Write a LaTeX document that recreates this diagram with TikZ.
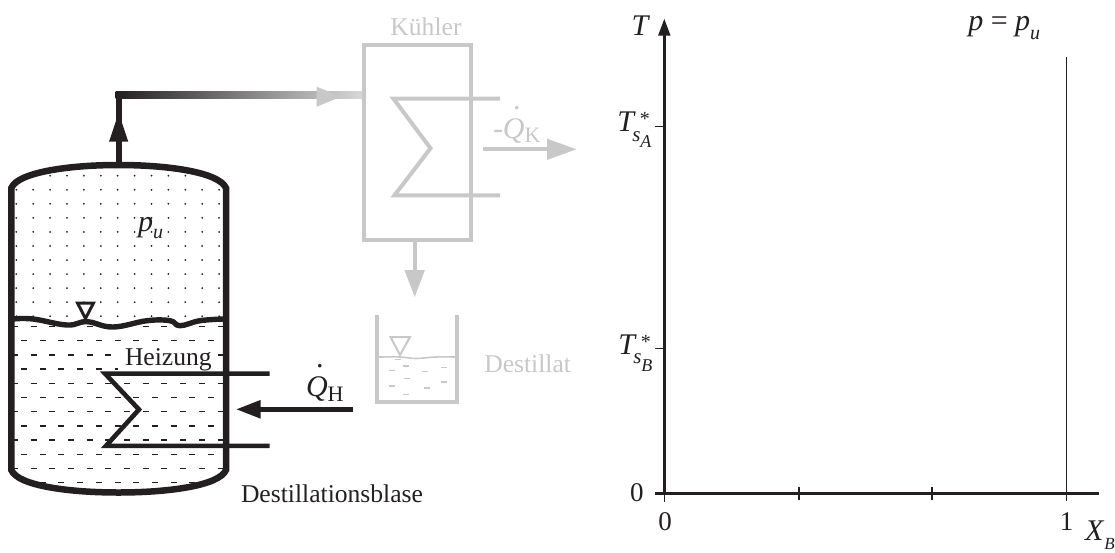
\documentclass[tikz,border=0pt]{standalone}
\usepackage{fontspec}
\setmainfont{Liberation Serif}
\usetikzlibrary{arrows.meta}
\definecolor{ink}{HTML}{231F20}
\definecolor{pale}{HTML}{C8C8C8}
\newcommand{\sz}[1]{\fontsize{#1}{#1}\selectfont}
\newcommand{\rsz}[3]{\raisebox{#1}{\sz{#2}#3}}
\newcommand{\qdot}{\textit{Q}\llap{\raisebox{29pt}{.}\hspace{4pt}}}
\tikzset{
  lbl/.style={anchor=base west,inner sep=0pt,outer sep=0pt,text=ink,font=\sz{25.6}},
  palelbl/.style={lbl,text=pale},
  wall/.style={draw=ink,line width=6.5pt,line join=miter},
  coil/.style={draw=ink,line width=4.6pt,line join=miter},
  palewall/.style={draw=pale,line width=4pt,line join=miter},
  axis/.style={draw=ink,line width=3.6pt},
  tick/.style={draw=ink,line width=1.2pt},
}
\begin{document}
\begin{tikzpicture}[x=1pt,y=-1pt]
\useasboundingbox (0,0) rectangle (1115,552);
% --- tank contents
\begin{scope}
\clip (11.3,188) .. controls (18,172) and (70,165) .. (118.5,165)
      .. controls (167,165) and (219,172) .. (226,188) -- (226,322) -- (11.3,322) -- cycle;
\foreach \r in {0,...,10}
  \foreach \c in {0,...,12}
    \fill[ink] ({16.3+16.9*\c},{175.7+14.05*\r}) circle (1pt);
\end{scope}
\begin{scope}
\clip (11.3,322) -- (226,322) -- (226,470) .. controls (219,486) and (167,492.5) .. (118.5,492.5)
      .. controls (70,492.5) and (18,486) .. (11.3,470) -- cycle;
\foreach \r in {0,2,...,10}
  \foreach \c in {0,...,10}
    \draw[ink,line width=1.3pt] ({21+18.7*\c},{340.7+14.2*\r}) -- ++(6,0);
\foreach \r in {1,3,...,9}
  \foreach \c in {-1,...,10}
    \draw[ink,line width=1.3pt] ({30.5+18.7*\c},{340.7+14.2*\r}) -- ++(6,0);
\foreach \c in {-1,...,11}
    \draw[ink,line width=1.3pt] ({30.5+18.7*\c},326.5) -- ++(6,0);
\end{scope}
\fill[white] (118,344.5) rectangle (218,372);
\node[lbl] (heizung) at (125,365) {Heizung};
% --- tank outline
\draw[wall] (11.3,470) -- (11.3,188) .. controls (18,172) and (70,165) .. (118.5,165)
   .. controls (167,165) and (219,172) .. (226,188) -- (226,470)
   .. controls (219,486) and (167,492.5) .. (118.5,492.5)
   .. controls (70,492.5) and (18,486) .. (11.3,470) -- cycle;
% liquid surface
\draw[ink,line width=5.4pt,line cap=round,line join=round] plot[smooth,tension=0.7] coordinates
  {(13,319) (33,319) (67,325) (87,321.7) (113,327) (147,320.7) (170,320.7) (180,325.7) (200,320.7) (224,319)};
\draw[ink,line width=3pt,line join=miter] (77.5,303) -- (93.5,303) -- (85.5,318.5) -- cycle;
% heating coil
\draw[coil] (269.5,373.6) -- (105,373.6) -- (139,409.5) -- (106,445.8) -- (269.5,445.8);
% vapour pipe
\coordinate (pipebase) at (118.7,165);
\coordinate (pipecorner) at (118.7,95);
\draw[ink,line width=6pt] (pipebase) -- (pipecorner);
\shade[left color=ink,right color=pale!70] (115.7,91) rectangle (362.7,98.7);
\fill[ink] (118.7,113) -- (128.3,141.7) -- (109,141.7) -- cycle;
\fill[pale] (341,96.7) -- (316.7,106.7) -- (316.7,86.7) -- cycle;
% --- cooler
\draw[palewall] (364,45.3) rectangle (471,240.3);
\draw[palewall] (500,98.7) -- (393.5,98.7) -- (430.5,148.3) -- (394.5,195.3) -- (500,195.3);
\node[palelbl,anchor=base] (kuehler) at (426,35) {Kühler};
\coordinate (qks) at (483.3,149.3);
\coordinate (qke) at (576.7,149.3);
\draw[pale,line width=4pt,-{Triangle[length=29.5pt,width=20pt]}] (qks) -- (qke);
\node[palelbl,font=\sz{30}] (qk) at (493,138) {-\qdot\rsz{-4.5pt}{22}{K}};
\coordinate (ds) at (414.7,242);
\coordinate (de) at (414.7,297.3);
\draw[pale,line width=4pt,-{Triangle[length=27.3pt,width=19.4pt]}] (ds) -- (de);
% --- distillate
\draw[palewall] (377.3,315) -- (377.3,401.5) -- (457,401.5) -- (457,315);
\draw[pale,line width=1.6pt] plot[smooth,tension=0.6] coordinates
  {(379,357) (400,357) (416,358.5) (435,357) (455,357)};
\draw[pale,line width=2pt,line join=miter] (390.5,337) -- (410,337) -- (400,355) -- cycle;
\foreach \x/\y in {145/328,125/362,168/348,226/365,281/352,170/385,281/396,125/408,230/414,168/433}
  \draw[pale,line width=1.5pt] ({350+\x/3-3},{250+\y/3}) -- ++(6,0);
\node[palelbl] (destillat) at (484.3,372) {Destillat};
% --- heat input
\coordinate (qhs) at (352.7,409.3);
\coordinate (qhe) at (236,409.3);
\draw[ink,line width=4.6pt,-{Triangle[length=24.7pt,width=17.4pt]}] (qhs) -- (qhe);
\node[lbl,font=\sz{30}] (qh) at (306,396) {\qdot\rsz{-5pt}{22}{H}};
\node[lbl] (blase) at (241,502) {Destillationsblase};
\node[lbl,font=\sz{30}] (pu) at (138,231.7) {\textit{p}\rsz{-6.5pt}{20}{\textit{u}}};
% --- diagram
\coordinate (origin) at (664.3,493.3);
\coordinate (ytop) at (664.3,18.3);
\coordinate (xend) at (1099,493.3);
\coordinate (xstart) at (655,493.3);
\draw[axis,-{Triangle[length=17.4pt,width=11.4pt]}] (origin) -- (ytop);
\draw[axis] (xstart) -- (xend);
\draw[tick] (655,126.7) -- (664.3,126.7);
\draw[tick] (655,348.3) -- (664.3,348.3);
\draw[tick] (664.3,493.3) -- (664.3,501.7);
\draw[tick] (799,486.5) -- (799,499.5);
\draw[tick] (932,486.5) -- (932,499.5);
\draw[ink,line width=1.4pt] (1066.7,57.3) -- (1066.7,501);
\node[lbl,font=\sz{30}] (T) at (631.7,35.7) {\textit{T}};
\node[lbl,font=\sz{30}] (TA) at (617.3,131.7)
  {\textit{T}\rlap{\hspace{-3.5pt}\rsz{-9.5pt}{21}{\textit{s}}\rsz{-16pt}{18}{\textit{A}}}\hspace{4pt}\rsz{6pt}{20}{*}};
\node[lbl,font=\sz{30}] (TB) at (618.3,354)
  {\textit{T}\rlap{\hspace{-3.5pt}\rsz{-9.5pt}{21}{\textit{s}}\rsz{-17.5pt}{18}{\textit{B}}}\hspace{4pt}\rsz{5.5pt}{20}{*}};
\node[lbl,font=\sz{27}] (y0) at (630,501.7) {0};
\node[lbl,font=\sz{27},anchor=base] (x0) at (665,530) {0};
\node[lbl,font=\sz{27},anchor=base] (x1) at (1066.7,530) {1};
\node[lbl,font=\sz{30}] (XB) at (1085,540) {\textit{X}\rsz{-9pt}{17}{\textit{B}}};
\node[lbl,font=\sz{30}] (pp) at (968.3,30) {\textit{p} = \textit{p}\rsz{-9pt}{20}{\textit{u}}};
\end{tikzpicture}
\end{document}
